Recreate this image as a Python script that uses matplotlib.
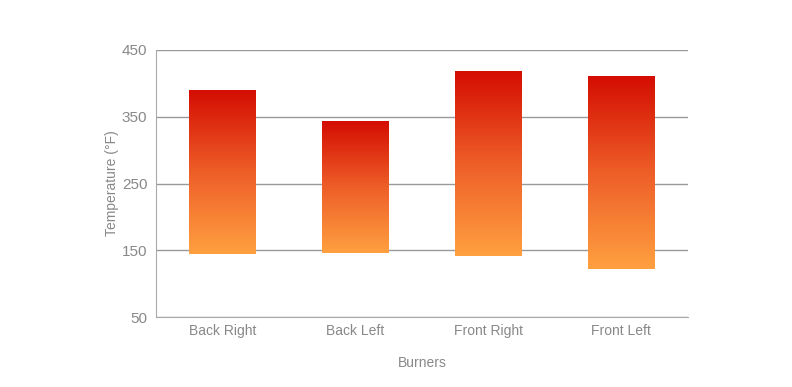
import numpy as np
import matplotlib.pyplot as plt
from matplotlib.colors import LinearSegmentedColormap

plt.rcParams['font.family'] = ['Liberation Sans', 'DejaVu Sans']

# burner temperature ranges (deg F)
burners = ['Back Right', 'Back Left', 'Front Right', 'Front Left']
low = [145, 146, 141, 122]
high = [389, 342, 417, 409]
yticks = [50, 150, 250, 350, 450]

grad = LinearSegmentedColormap.from_list('heat', ['#ffa040', '#ee5e28', '#d40d02'])

fig = plt.figure(figsize=(7.92, 3.87), dpi=100)
ax = fig.add_axes([0.1966, 0.180, 0.672, 0.6915])

x = np.arange(len(burners))
w = 0.5
bars = ax.bar(x, np.array(high) - np.array(low), bottom=low, width=w,
              color='none', edgecolor='none', zorder=3)
g = np.linspace(0, 1, 256).reshape(-1, 1)
for b in bars:
    bx, by = b.get_x(), b.get_y()
    ax.imshow(g, cmap=grad, origin='lower', aspect='auto', zorder=2,
              interpolation='nearest',
              extent=[bx, bx + b.get_width(), by, by + b.get_height()])

ax.set_xlim(-0.5, len(burners) - 0.5)
ax.set_ylim(50, 450)
ax.set_yticks(yticks)
ax.set_xticks(x)
ax.set_xticklabels(burners)
ax.yaxis.grid(True, color='#999999', linewidth=1.0, zorder=0)
ax.set_axisbelow(True)
ax.tick_params(length=0, colors='#888888', labelsize=10, pad=5)
ax.tick_params(axis='y', labelsize=11, pad=6)
for s in ['top', 'right']:
    ax.spines[s].set_visible(False)
for s in ['left', 'bottom']:
    ax.spines[s].set_color('#aaaaaa')
ax.set_xlabel('Burners', color='#888888', fontsize=10, labelpad=13)
ax.set_ylabel('Temperature (°F)', color='#888888', fontsize=10, labelpad=2)

fig.savefig('out.png', dpi=100)
